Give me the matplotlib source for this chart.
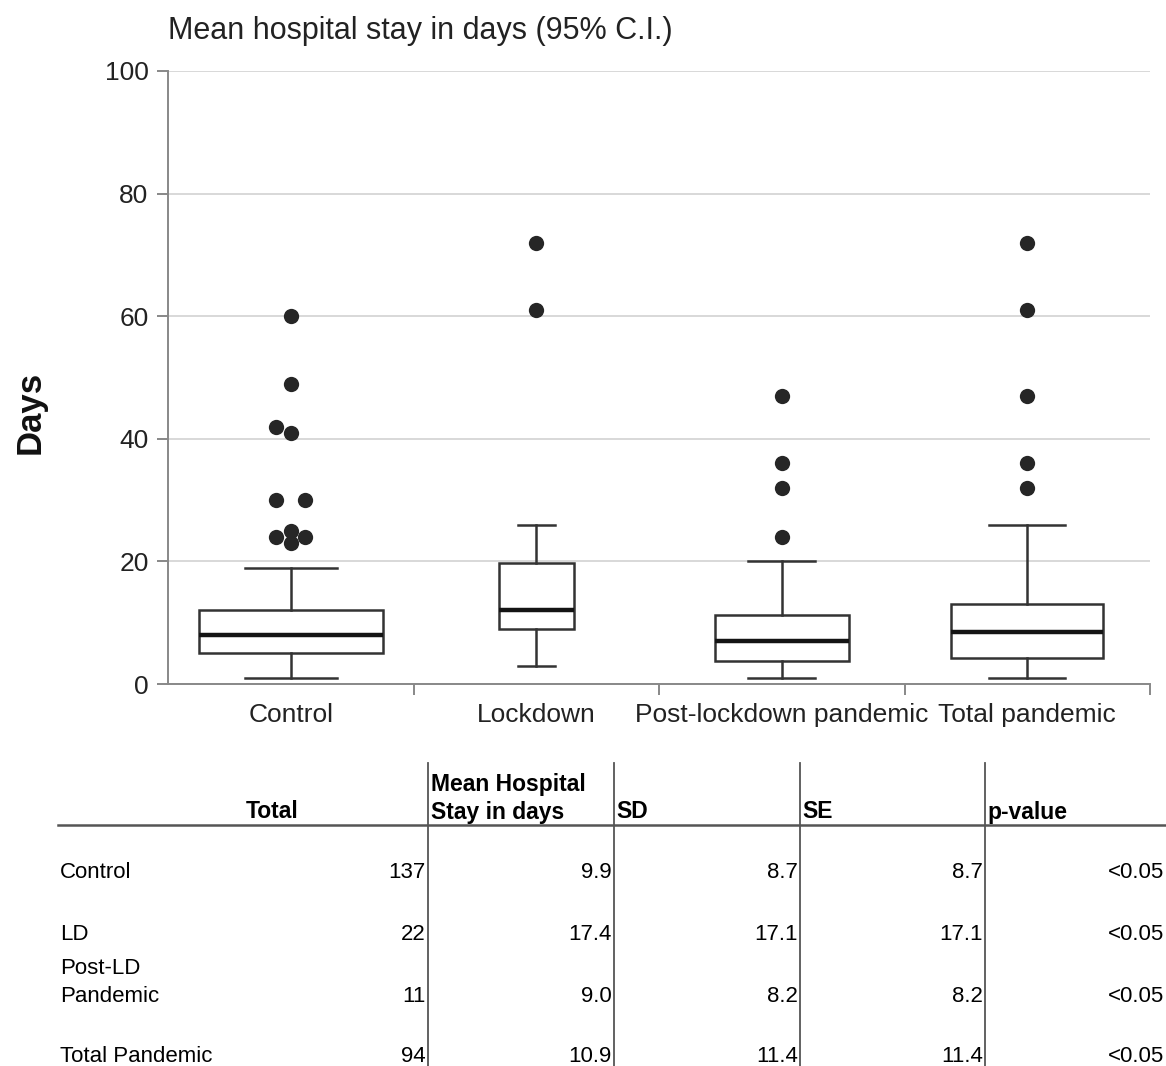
import matplotlib
matplotlib.use("Agg")
import matplotlib.pyplot as plt
from matplotlib.lines import Line2D
import numpy as np

plt.rcParams['font.family'] = ['Liberation Sans', 'DejaVu Sans']

# ---------------- data ----------------
groups = ["Control", "Lockdown", "Post-lockdown pandemic", "Total pandemic"]
q1 = [5, 9, 3.7, 4.2]
medians = [8, 12, 7, 8.5]
q3 = [12, 19.8, 11.3, 13]
whisker_low = [1, 3, 1, 1]
whisker_high = [19, 26, 20, 26]
outliers = [
    [23, 24, 24, 25, 30, 30, 41, 42, 49, 60],
    [61, 72],
    [24, 32, 36, 47],
    [32, 36, 47, 61, 72],
]
yticks = [0, 20, 40, 60, 80, 100]

table_rows = ["Control", "LD", "Post-LD\nPandemic", "Total Pandemic"]
total_n = [137, 22, 11, 94]
mean_stay = [9.9, 17.4, 9.0, 10.9]
sd_vals = [8.7, 17.1, 8.2, 11.4]
se_vals = [8.7, 17.1, 8.2, 11.4]
p_values = ["<0.05", "<0.05", "<0.05", "<0.05"]

# ---------------- style ----------------
box_widths = [0.75, 0.305, 0.545, 0.62]
W, H = 1166, 1066
fig = plt.figure(figsize=(W / 100, H / 100), dpi=100)

def fx(px):
    return px / W

def fy(py):
    return 1 - py / H

ax = fig.add_axes([fx(168), fy(684), fx(1150) - fx(168), fy(71) - fy(684)])

stats = []
for i in range(len(groups)):
    stats.append(dict(q1=q1[i], med=medians[i], q3=q3[i],
                      whislo=whisker_low[i], whishi=whisker_high[i],
                      fliers=[], label=groups[i]))

edge = "#333333"
positions = np.arange(len(groups))
ax.bxp(stats, positions=positions, widths=box_widths, showfliers=False,
       patch_artist=True,
       boxprops=dict(facecolor="white", edgecolor=edge, linewidth=1.8),
       medianprops=dict(color="#141414", linewidth=3.2, solid_capstyle="butt"),
       whiskerprops=dict(color=edge, linewidth=1.8),
       capprops=dict(color=edge, linewidth=1.8),
       capwidths=[w / 2 for w in box_widths], zorder=3)

# outlier placement: duplicates spread symmetrically, near-collisions shifted left
dx = 0.059
for i, vals in enumerate(outliers):
    placed = []
    vals_sorted = sorted(vals)
    uniq = sorted(set(vals_sorted))
    for v in uniq:
        k = vals_sorted.count(v)
        if k > 1:
            offs = np.linspace(-dx, dx, k)
            for o in offs:
                placed.append((o, v))
        else:
            collide = any(abs(pv - v) < 1.5 and abs(po) < 1e-9 for po, pv in placed)
            placed.append((-dx if collide else 0.0, v))
    xs = [positions[i] + o for o, _ in placed]
    ys = [v for _, v in placed]
    ax.plot(xs, ys, 'o', color="#262626", markersize=11,
            markeredgewidth=0, zorder=4)

ax.set_xlim(-0.5, len(groups) - 0.5)
ax.set_ylim(0, 100)
ax.set_yticks(yticks)
ax.set_yticklabels([str(t) for t in yticks])
ax.set_xticks(positions)
ax.set_xticklabels(groups)
ax.set_xticks(list(positions + 0.5), minor=True)
ax.tick_params(axis='x', which='major', length=0, pad=14, labelsize=19, colors="#222222")
ax.tick_params(axis='x', which='minor', length=8, width=1.4, color="#888888")
ax.tick_params(axis='y', length=8, width=1.4, color="#888888", pad=6,
               labelsize=19, labelcolor="#222222")
ax.yaxis.grid(True, color="#d6d6d6", linewidth=1.3)
ax.set_axisbelow(True)
for s in ['top', 'right']:
    ax.spines[s].set_visible(False)
for s in ['left', 'bottom']:
    ax.spines[s].set_color("#888888")
    ax.spines[s].set_linewidth(1.4)

fig.text(fx(168), fy(31), "Mean hospital stay in days (95% C.I.)",
         ha='left', va='center', fontsize=22, color="#222222")
fig.text(fx(30), fy(412), "Days", rotation=90, ha='center', va='center',
         fontsize=25, fontweight='bold', color="#111111")

# ---------------- table ----------------
lc = "#555555"
fig.add_artist(Line2D([fx(58), fx(1166)], [fy(825), fy(825)],
                      transform=fig.transFigure, color=lc, linewidth=1.8))
col_lines = [428, 614, 800, 985]
for cx in col_lines:
    fig.add_artist(Line2D([fx(cx), fx(cx)], [fy(763), fy(1066)],
                          transform=fig.transFigure, color=lc, linewidth=1.3))

hfs = 16.5
fig.text(fx(298), fy(812), "Total", ha='right', va='center', fontsize=hfs, fontweight='bold')
fig.text(fx(431), fy(785), "Mean Hospital", ha='left', va='center', fontsize=hfs, fontweight='bold')
fig.text(fx(431), fy(812), "Stay in days", ha='left', va='center', fontsize=hfs, fontweight='bold')
fig.text(fx(616), fy(812), "SD", ha='left', va='center', fontsize=hfs, fontweight='bold')
fig.text(fx(802), fy(812), "SE", ha='left', va='center', fontsize=hfs, fontweight='bold')
fig.text(fx(987), fy(812), "p-value", ha='left', va='center', fontsize=hfs, fontweight='bold')

row_y = [873, 935, 996, 1056]
tfs = 16
for r, label in enumerate(table_rows):
    lines = label.split("\n")
    for j, ln in enumerate(lines):
        yy = row_y[r] - (len(lines) - 1 - j) * 28
        fig.text(fx(60), fy(yy), ln, ha='left', va='center', fontsize=tfs)
    vals = [str(total_n[r]), f"{mean_stay[r]:.1f}", f"{sd_vals[r]:.1f}",
            f"{se_vals[r]:.1f}"]
    for cx, v in zip(col_lines, vals):
        fig.text(fx(cx - 2), fy(row_y[r]), v, ha='right', va='center', fontsize=tfs)
    fig.text(fx(1164), fy(row_y[r]), p_values[r], ha='right', va='center', fontsize=tfs)

fig.savefig("out.png", dpi=100)
